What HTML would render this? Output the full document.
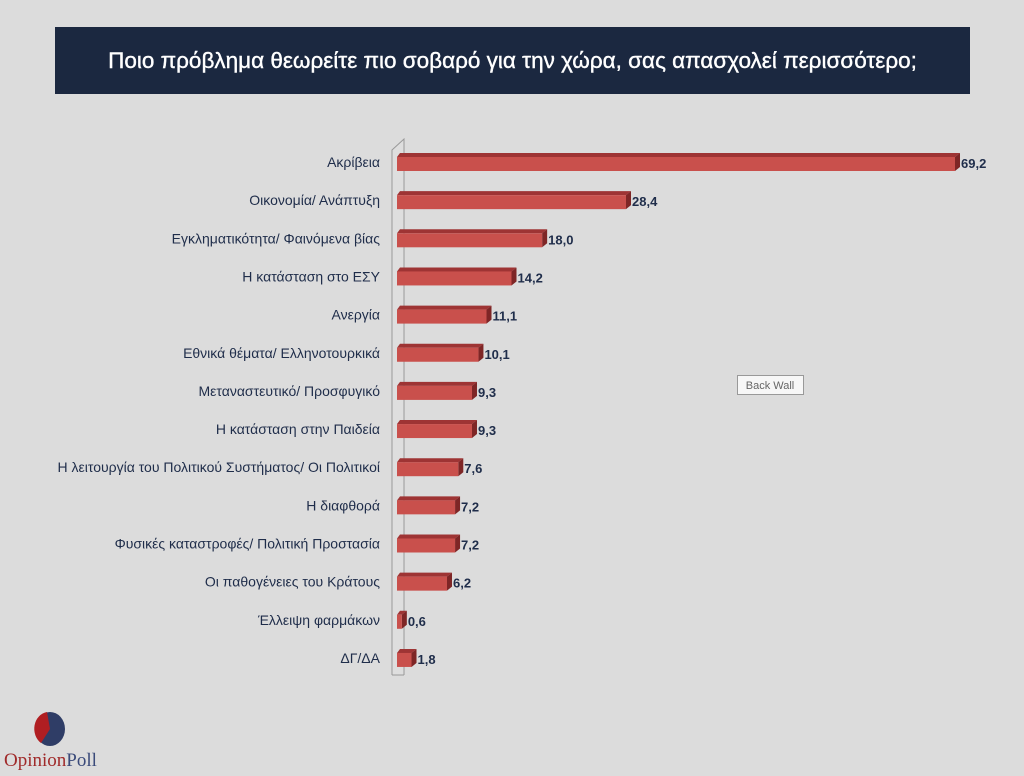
<!DOCTYPE html>
<html><head><meta charset="utf-8"><style>
body{margin:0;width:1024px;height:776px;background:#dcdcdc;font-family:"Liberation Sans",sans-serif;overflow:hidden;position:relative}
#title{position:absolute;left:55px;top:27px;width:915px;height:67px;background:#1b2840;color:#fff;font-size:22.5px;display:flex;align-items:center;justify-content:center;-webkit-text-stroke:0.4px #fff}
</style></head><body>
<div id="title">Ποιο πρόβλημα θεωρείτε πιο σοβαρό για την χώρα, σας απασχολεί περισσότερο;</div>
<svg id="chart" width="1024" height="776" style="position:absolute;left:0;top:0">
<g>
<polyline points="392,675 392,150 404,139 404,675" fill="#dedede" stroke="#999" stroke-width="1"/>
<line x1="392" y1="675" x2="404" y2="675" stroke="#999"/>
</g>
<g id="bars"></g>
<g>
<rect x="737.5" y="375.5" width="66" height="19" fill="#f7f7f7" stroke="#999"/>
<text x="770" y="389" font-size="11" fill="#666" text-anchor="middle">Back Wall</text>
</g>
<g>
<ellipse cx="50" cy="729" rx="15" ry="17" fill="#2f3d66"/>
<path d="M50,729 L47,712 A15,17 0 0 0 41,743 Z" fill="#b01e22"/>
<text x="4" y="766" font-family="Liberation Serif,serif" font-size="19" fill="#a02a2a">Opinion<tspan fill="#3a4a7a">Poll</tspan></text>
</g>
</svg>
<script>
const categories=["Ακρίβεια","Οικονομία/ Ανάπτυξη","Εγκληματικότητα/ Φαινόμενα βίας","Η κατάσταση στο ΕΣΥ","Ανεργία","Εθνικά θέματα/ Ελληνοτουρκικά","Μεταναστευτικό/ Προσφυγικό","Η κατάσταση στην Παιδεία","Η λειτουργία του Πολιτικού Συστήματος/ Οι Πολιτικοί","Η διαφθορά","Φυσικές καταστροφές/ Πολιτική Προστασία","Οι παθογένειες του Κράτους","Έλλειψη φαρμάκων","ΔΓ/ΔΑ"];
const values=[69.2,28.4,18.0,14.2,11.1,10.1,9.3,9.3,7.6,7.2,7.2,6.2,0.6,1.8];
const labels=["69,2","28,4","18,0","14,2","11,1","10,1","9,3","9,3","7,6","7,2","7,2","6,2","0,6","1,8"];
const ns="http://www.w3.org/2000/svg";
const x0=397, pxPerUnit=(955-397)/69.2;
const xScale=v=>x0+v*pxPerUnit;
const yScale=i=>162+i*38.15;
const g=document.getElementById('bars');
function mk(tag,attrs){const e=document.createElementNS(ns,tag);for(const k in attrs)e.setAttribute(k,attrs[k]);return e;}
categories.forEach((c,i)=>{
 const y=yScale(i), x1=xScale(values[i]);
 const grp=mk('g',{});
 
 
 const top=mk('polygon',{points:`${x0+3},${y-9} ${x1+5},${y-9} ${x1},${y-5} ${x0},${y-5}`,fill:'#9e3434'});
 const side=mk('polygon',{points:`${x1},${y-5} ${x1+5},${y-9} ${x1+5},${y+5} ${x1},${y+9}`,fill:'#7e2626'});
 const face=mk('rect',{x:x0,y:y-5,width:Math.max(x1-x0,1),height:14,fill:'#c9504c'});
 
 
 grp.appendChild(top);grp.appendChild(side);grp.appendChild(face);
 const lab=mk('text',{x:380,y:y+5,'font-size':14,fill:'#1f2d4a','text-anchor':'end'});
 lab.textContent=c;
 
 
 const val=mk('text',{x:x1+6,y:y+6,'font-size':13,'font-weight':'bold',fill:'#1f2d4a'});
 val.textContent=labels[i];
 
 
 grp.appendChild(lab);grp.appendChild(val);
 g.appendChild(grp);
});
</script>
</body></html>
